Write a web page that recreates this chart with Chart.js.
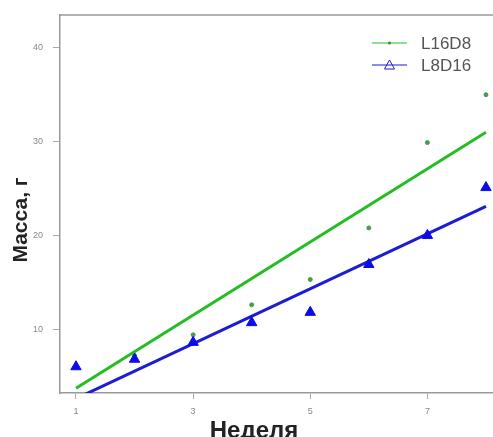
<!DOCTYPE html>
<html>
<head>
<meta charset="utf-8">
<script src="https://cdn.jsdelivr.net/npm/chart.js@4/dist/chart.umd.min.js"></script>
<style>
  html, body { margin: 0; padding: 0; background: #fff; overflow: hidden; }
  #wrap { width: 493px; height: 437px; }
</style>
</head>
<body>
<div id="wrap"><canvas id="graph"></canvas></div>
<script>
// weeks and measured mass per group
var weeks = [1, 2, 3, 4, 5, 6, 7, 8];
var massL16D8 = [6.0, 7.2, 9.4, 12.6, 15.3, 20.8, 29.9, 35.0];
var massL8D16 = [6.0, 6.8, 8.6, 10.7, 11.8, 16.9, 20.0, 25.1];

// fitted trend lines, read at week 1 and week 8
var trendWeeks = [1, 8];
var trendL16D8 = [3.7, 31.0];
var trendL8D16 = [2.6, 23.1];

var xTicks = [1, 3, 5, 7];
var yTicks = [10, 20, 30, 40];

var labels = ['L16D8', 'L8D16'];
var colors = ['#25bd25', '#1c1cd2'];
var xTitle = 'Неделя';
var yTitle = 'Масса, г';

var FONT = '"Liberation Sans", Arial, sans-serif';

function toPoints(xs, ys) {
    var pts = [];
    for (let i = 0; i < xs.length; i++) {
        pts.push({ x: xs[i], y: ys[i] });
    }
    return pts;
}

// legend with line samples, frame top line and the axis titles
const decorPlugin = {
    id: 'decor',
    afterDraw(chart) {
        const ctx = chart.ctx;
        const x0 = 372, x1 = 407, tx = 421;
        const rows = [43, 65];
        ctx.save();
        for (let i = 0; i < labels.length; i++) {
            const y = rows[i];
            ctx.strokeStyle = colors[i];
            ctx.lineWidth = 1;
            ctx.beginPath();
            ctx.moveTo(x0, y);
            ctx.lineTo(x1, y);
            ctx.stroke();
            const cx = (x0 + x1) / 2;
            if (i == 0) {
                ctx.fillStyle = '#4a8a4a';
                ctx.beginPath();
                ctx.arc(cx, y, 1.6, 0, Math.PI * 2);
                ctx.fill();
            } else {
                ctx.beginPath();
                ctx.moveTo(cx, y - 5);
                ctx.lineTo(cx + 5, y + 4);
                ctx.lineTo(cx - 5, y + 4);
                ctx.closePath();
                ctx.stroke();
            }
            ctx.fillStyle = '#555';
            ctx.font = '17px ' + FONT;
            ctx.textBaseline = 'middle';
            ctx.textAlign = 'left';
            ctx.fillText(labels[i], tx, y + 1);
        }

        const a = chart.chartArea;
        ctx.strokeStyle = '#999';
        ctx.lineWidth = 1.5;
        ctx.beginPath();
        ctx.moveTo(a.left, a.top);
        ctx.lineTo(chart.width, a.top);
        ctx.stroke();

        ctx.fillStyle = '#222';
        ctx.font = 'bold 24px ' + FONT;
        ctx.textAlign = 'center';
        ctx.textBaseline = 'alphabetic';
        ctx.fillText(xTitle, 254, 438);

        ctx.font = 'bold 21px ' + FONT;
        ctx.translate(27, 220);
        ctx.rotate(-Math.PI / 2);
        ctx.fillText(yTitle, 0, 0);
        ctx.restore();
    }
};

const config = {
    type: 'scatter',
    data: {
        datasets: [
            {
                label: labels[0] + ' trend',
                type: 'line',
                data: toPoints(trendWeeks, trendL16D8),
                borderColor: colors[0],
                borderWidth: 3,
                pointRadius: 0,
                order: 4
            },
            {
                label: labels[1] + ' trend',
                type: 'line',
                data: toPoints(trendWeeks, trendL8D16),
                borderColor: colors[1],
                borderWidth: 3,
                pointRadius: 0,
                order: 3
            },
            {
                label: labels[0],
                data: toPoints(weeks, massL16D8),
                backgroundColor: '#4a9a4a',
                borderColor: '#4a9a4a',
                pointRadius: 2,
                pointStyle: 'circle',
                order: 2
            },
            {
                label: labels[1],
                data: toPoints(weeks, massL8D16),
                backgroundColor: '#0c0ce6',
                borderColor: '#0c0ce6',
                pointRadius: 6,
                pointStyle: 'triangle',
                order: 1
            }
        ]
    },
    options: {
        responsive: true,
        maintainAspectRatio: false,
        animation: false,
        layout: { autoPadding: false, padding: { top: 15, right: 0, left: 0, bottom: 0 } },
        plugins: {
            legend: { display: false },
            tooltip: { enabled: false }
        },
        scales: {
            x: {
                type: 'linear',
                min: 0.727,
                max: 8.12,
                afterBuildTicks: (axis) => { axis.ticks = xTicks.map(v => ({ value: v })); },
                afterFit: (axis) => {
                    axis.height = 44;
                    axis.paddingLeft = 0;
                    axis.paddingRight = 0;
                },
                grid: { display: true, drawOnChartArea: false, drawTicks: true, tickLength: 6, color: '#aaa' },
                border: { color: '#999', width: 1.5 },
                ticks: {
                    color: '#888',
                    font: { size: 9, family: FONT },
                    padding: 7,
                    maxRotation: 0
                },
                title: { display: false }
            },
            y: {
                type: 'linear',
                min: 3.2,
                max: 43.5,
                afterBuildTicks: (axis) => { axis.ticks = yTicks.map(v => ({ value: v })); },
                afterFit: (axis) => {
                    axis.width = 60;
                    axis.paddingTop = 0;
                    axis.paddingBottom = 0;
                },
                grid: { display: true, drawOnChartArea: false, drawTicks: true, tickLength: 7, color: '#aaa' },
                border: { color: '#999', width: 1.5 },
                ticks: {
                    color: '#888',
                    font: { size: 9, family: FONT },
                    padding: 10
                },
                title: { display: false }
            }
        }
    },
    plugins: [decorPlugin]
};

new Chart(document.getElementById('graph'), config);
</script>
</body>
</html>
